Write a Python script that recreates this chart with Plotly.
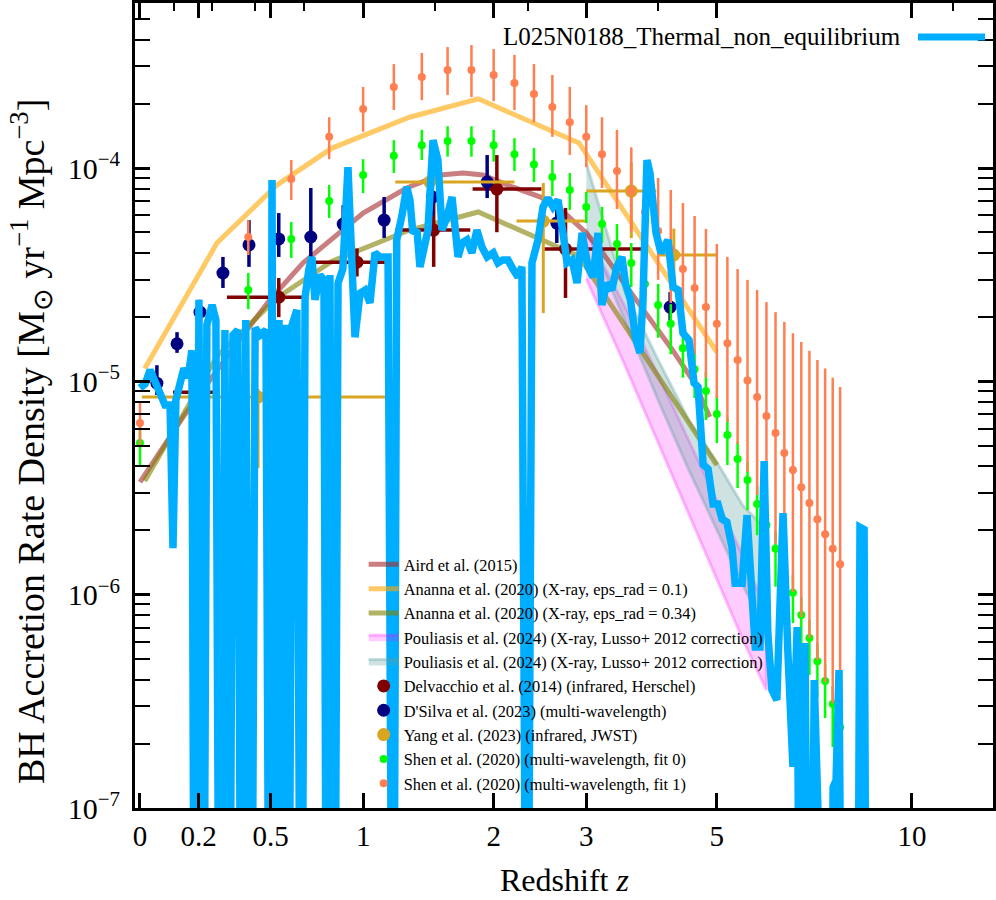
import plotly.graph_objects as go

# simulation: BH accretion rate density vs redshift (0 = no accretion in that snapshot)
sim_z = [0.0, 0.016, 0.032, 0.048, 0.064, 0.081, 0.098, 0.108, 0.118, 0.132,
         0.146, 0.161, 0.175, 0.186, 0.201, 0.216, 0.231, 0.251, 0.266, 0.282,
         0.302, 0.318, 0.335, 0.355, 0.372, 0.389, 0.411, 0.43, 0.452, 0.479,
         0.497, 0.507, 0.521, 0.54, 0.555, 0.57, 0.584, 0.604, 0.628, 0.65,
         0.67, 0.69, 0.706, 0.722, 0.749, 0.771, 0.787, 0.804, 0.827, 0.85,
         0.878, 0.908, 0.93, 0.95, 0.981, 1.012, 1.043, 1.075, 1.108, 1.161,
         1.195, 1.22, 1.257, 1.29, 1.313, 1.334, 1.364, 1.386, 1.409, 1.446,
         1.485, 1.523, 1.555, 1.595, 1.636, 1.661, 1.686, 1.719, 1.761, 1.804,
         1.848, 1.893, 1.94, 1.996, 2.04, 2.088, 2.137, 2.185, 2.235, 2.275,
         2.327, 2.379, 2.443, 2.497, 2.551, 2.607, 2.664, 2.721, 2.768, 2.827,
         2.887, 2.948, 3.022, 3.085, 3.148, 3.199, 3.264, 3.33, 3.397, 3.469,
         3.517, 3.588, 3.66, 3.726, 3.77, 3.83, 3.875, 3.967, 4.045, 4.156,
         4.237, 4.32, 4.402, 4.503, 4.59, 4.66, 4.75, 4.84, 4.93, 5.02,
         5.10, 5.19, 5.29, 5.35, 5.49, 5.59, 5.67, 5.76, 5.86, 5.95,
         6.03, 6.12, 6.23, 6.37, 6.48, 6.60, 6.70, 6.79, 6.89, 7.01,
         7.12, 7.24, 7.53, 7.61, 7.69, 7.77, 7.88, 8.27, 8.36, 8.48,
         8.57]
sim_rate = [9.30e-6, 9.71e-6, 1.13e-5, 1.00e-5, 8.91e-6, 7.74e-6, 7.74e-6, 1.65e-6, 8.17e-6, 1.01e-5,
            1.15e-5, 1.04e-5, 1.40e-5, 0, 2.41e-5, 0, 1.84e-5, 2.28e-5, 1.94e-5, 0,
            1.74e-5, 0, 1.65e-5, 1.74e-5, 0, 1.94e-5, 0, 1.78e-5, 1.65e-5, 1.74e-5,
            0, 8.79e-5, 0, 1.94e-5, 0, 1.84e-5, 0, 1.84e-5, 2.16e-5, 0,
            2.48e-5, 3.36e-5, 3.83e-5, 2.41e-5, 3.15e-5, 2.99e-5, 0, 3.15e-5, 0, 2.89e-5,
            3.36e-5, 1.01e-4, 4.0e-5, 1.61e-5, 2.59e-5, 2.68e-5, 2.33e-5, 4.0e-5, 3.83e-5, 3.83e-5,
            0, 4.60e-5, 6.02e-5, 8.15e-5, 7.08e-5, 4.96e-5, 5.12e-5, 3.44e-5, 4.0e-5, 5.12e-5,
            1.35e-4, 1.09e-4, 5.12e-5, 5.89e-5, 7.31e-5, 4.60e-5, 3.83e-5, 4.45e-5, 4.60e-5, 4.0e-5,
            5.12e-5, 4.26e-5, 3.83e-5, 4.0e-5, 3.59e-5, 3.71e-5, 3.71e-5, 3.36e-5, 3.08e-5, 3.44e-5,
            0, 3.59e-5, 4.60e-5, 6.57e-5, 7.23e-5, 6.57e-5, 7.08e-5, 4.96e-5, 3.59e-5, 3.71e-5,
            2.89e-5, 4.96e-5, 3.44e-5, 3.08e-5, 4.96e-5, 2.28e-5, 2.89e-5, 2.68e-5, 3.44e-5, 3.83e-5,
            2.89e-5, 2.41e-5, 1.61e-5, 1.36e-5, 2.41e-5, 1.09e-4, 9.47e-5, 4.96e-5, 4.0e-5, 4.60e-5,
            2.77e-5, 2.68e-5, 1.68e-5, 1.56e-5, 9.82e-6, 9.42e-6, 4.08e-6, 3.88e-6, 2.66e-6, 2.66e-6,
            2.26e-6, 2.19e-6, 1.67e-6, 1.13e-6, 1.13e-6, 2.36e-6, 1.13e-6, 5.68e-7, 5.68e-7, 4.23e-6,
            6.61e-7, 3.57e-7, 3.21e-7, 2.41e-6, 5.5e-7, 1.56e-7, 7.05e-7, 0, 5.93e-7, 0,
            3.98e-7, 0, 0, 1.25e-7, 1.35e-7, 4.43e-7, 0, 0, 2.07e-6, 2.02e-6,
            0]

# Aird et al. (2015)
aird_z = [0.0, 0.143, 0.351, 0.497, 0.66, 1.0, 1.29, 1.54, 1.73, 1.9,
          2.18, 2.47, 2.74, 3.0, 3.21, 3.55, 3.8, 4.23, 4.6, 4.87]
aird_rate = [3.37e-6, 6.8e-6, 1.51e-5, 2.41e-5, 3.59e-5, 6.15e-5, 8.06e-5, 9.27e-5, 9.47e-5, 9.27e-5,
             8.15e-5, 7.31e-5, 6.15e-5, 4.96e-5, 3.99e-5, 2.77e-5, 2.11e-5, 1.40e-5, 9.8e-6, 6.8e-6]

# Ananna et al. (2020)
ananna_z = [0.015, 0.27, 0.53, 0.816, 1.31, 1.86, 2.91, 5.0]
ananna_01 = [1.15e-5, 4.45e-5, 8.32e-5, 1.24e-4, 1.73e-4, 2.11e-4, 1.31e-4, 1.37e-5]
ananna_034 = [3.41e-6, 1.31e-5, 2.46e-5, 3.66e-5, 5.12e-5, 6.22e-5, 3.86e-5, 4.05e-6]

# Pouliasis et al. (2024) bands
pouli_z = [3.0, 3.5, 4.0, 4.5, 5.0, 5.5, 6.0]
pouli_a_hi = [4.96e-5, 2.28e-5, 1.07e-5, 5.31e-6, 2.78e-6, 1.53e-6, 8.47e-7]
pouli_a_lo = [3.02e-5, 1.21e-5, 5.14e-6, 2.36e-6, 1.18e-6, 6.19e-7, 3.57e-7]
pouli_b_hi = [1.055e-4, 2.68e-5, 1.26e-5, 6.59e-6, 4.19e-6, 2.63e-6, 2.01e-6]
pouli_b_lo = [5.18e-5, 1.94e-5, 8.17e-6, 3.84e-6, 2.01e-6, 1.11e-6, 6.83e-7]

# Delvacchio et al. (2014)
delv_z = [0.205, 0.539, 0.962, 1.49, 2.03, 2.75]
delv_zlo = [0.108, 0.31, 0.706, 1.21, 1.81, 2.51]
delv_zhi = [0.27, 0.655, 1.14, 1.79, 2.48, 3.76]
delv_rate = [8.9e-6, 2.48e-5, 3.62e-5, 5.12e-5, 7.97e-5, 4.17e-5]
delv_lo = [8.2e-6, 2.0e-5, 3.1e-5, 3.44e-5, 5.0e-5, 2.46e-5]
delv_hi = [9.5e-6, 3.05e-5, 4.2e-5, 7.08e-5, 1.15e-4, 6.5e-5]

# D'Silva et al. (2023)
dsilva_z = [0.054, 0.122, 0.205, 0.294, 0.403, 0.539, 0.70, 0.88, 1.135, 1.48, 1.94, 2.65, 4.19]
dsilva_rate = [9.8e-6, 1.50e-5, 2.11e-5, 3.22e-5, 4.36e-5, 4.65e-5, 4.75e-5, 5.46e-5, 5.70e-5, 7.31e-5, 8.6e-5, 5.52e-5, 2.23e-5]
dsilva_lo = [8.63e-6, 1.36e-5, 1.84e-5, 2.74e-5, 3.44e-5, 3.83e-5, 3.83e-5, 4.36e-5, 4.70e-5, 6.0e-5, 7.23e-5, 4.45e-5, 1.90e-5]
dsilva_hi = [1.19e-5, 1.70e-5, 2.41e-5, 3.83e-5, 5.70e-5, 6.15e-5, 8.06e-5, 6.7e-5, 7.31e-5, 8.8e-5, 1.15e-4, 6.36e-5, 2.62e-5]

# Yang et al. (2023)
yang_z = [0.443, 1.46, 2.5, 3.6, 4.25]
yang_zlo = [0.006, 1.21, 2.22, 3.0, 4.0]
yang_zhi = [1.17, 2.2, 2.99, 3.97, 5.0]
yang_rate = [8.44e-6, 8.6e-5, 5.64e-5, 7.8e-5, 3.91e-5]
yang_lo = [3.92e-6, 6.5e-5, 2.09e-5, 4.69e-5, 2.68e-5]
yang_hi = [9.2e-6, 9.5e-5, 8.5e-5, 1.06e-4, 5.2e-5]

# Shen et al. (2020)
shen_z = [0.0, 0.2, 0.4, 0.6, 0.8, 1.0, 1.2, 1.4, 1.6, 1.8,
          2.0, 2.2, 2.4, 2.6, 2.8, 3.0, 3.2, 3.4, 3.6, 3.8,
          4.0, 4.2, 4.4, 4.6, 4.8, 5.0, 5.2, 5.4, 5.6, 5.8,
          6.0, 6.2, 6.4, 6.6, 6.8, 7.0, 7.2, 7.4, 7.6, 7.8]
shen0_rate = [5.14e-6, 1.48e-5, 2.68e-5, 4.65e-5, 7.00e-5, 9.27e-5, 1.14e-4, 1.28e-4, 1.34e-4, 1.34e-4,
              1.28e-4, 1.16e-4, 1.04e-4, 9.07e-5, 7.89e-5, 6.57e-5, 5.46e-5, 4.40e-5, 3.59e-5, 2.86e-5,
              2.28e-5, 1.86e-5, 1.43e-5, 1.14e-5, 9.01e-6, 7.03e-6, 5.60e-6, 4.32e-6, 3.45e-6, 2.66e-6,
              2.12e-6, 1.64e-6, 1.29e-6, 1.02e-6, 8.02e-7, 6.26e-7, 4.88e-7, 3.94e-7, 3.07e-7, 2.39e-7]
shen0_hi = [6.24e-6, 1.78e-5, 3.22e-5, 5.58e-5, 8.32e-5, 1.10e-4, 1.35e-4, 1.51e-4, 1.57e-4, 1.57e-4,
            1.51e-4, 1.38e-4, 1.24e-4, 1.09e-4, 9.47e-5, 7.72e-5, 6.57e-5, 5.46e-5, 4.45e-5, 3.55e-5,
            2.86e-5, 2.30e-5, 1.78e-5, 1.40e-5, 1.11e-5, 8.63e-6, 6.80e-6, 5.19e-6, 4.18e-6, 3.23e-6,
            2.57e-6, 1.99e-6, 1.57e-6, 1.24e-6, 9.74e-7, 7.60e-7, 5.93e-7, 4.78e-7, 3.73e-7, 2.91e-7]
shen0_lo = [3.97e-6, 1.23e-5, 2.18e-5, 3.79e-5, 5.83e-5, 7.63e-5, 9.47e-5, 1.09e-4, 1.13e-4, 1.13e-4,
            1.07e-4, 9.68e-5, 8.60e-5, 7.39e-5, 6.36e-5, 5.52e-5, 4.45e-5, 3.44e-5, 2.77e-5, 2.16e-5,
            1.60e-5, 1.34e-5, 1.04e-5, 8.35e-6, 6.59e-6, 5.14e-6, 4.05e-6, 3.16e-6, 2.49e-6, 1.90e-6,
            1.48e-6, 1.09e-6, 8.75e-7, 7.36e-7, 5.21e-7, 4.20e-7, 3.31e-7, 2.64e-7, 1.93e-7, 1.51e-7]
shen1_rate = [6.38e-6, 1.98e-5, 4.75e-5, 8.88e-5, 1.40e-4, 1.89e-4, 2.40e-4, 2.67e-4, 2.88e-4, 2.88e-4,
              2.73e-4, 2.50e-4, 2.22e-4, 1.93e-4, 1.64e-4, 1.40e-4, 1.16e-4, 9.68e-5, 7.80e-5, 6.22e-5,
              5.07e-5, 4.17e-5, 3.36e-5, 2.74e-5, 2.23e-5, 1.86e-5, 1.51e-5, 1.26e-5, 1.01e-5, 8.44e-6,
              6.88e-6, 5.72e-6, 4.61e-6, 3.84e-6, 3.19e-6, 2.69e-6, 2.26e-6, 1.92e-6, 1.64e-6, 1.39e-6]
shen1_hi = [8.0e-6, 2.41e-5, 5.70e-5, 1.09e-4, 1.73e-4, 2.40e-4, 3.07e-4, 3.46e-4, 3.69e-4, 3.77e-4,
            3.61e-4, 3.39e-4, 3.07e-4, 2.73e-4, 2.40e-4, 1.97e-4, 1.73e-4, 1.51e-4, 1.25e-4, 1.06e-4,
            8.98e-5, 7.89e-5, 6.85e-5, 5.96e-5, 5.18e-5, 4.40e-5, 3.83e-5, 3.36e-5, 2.99e-5, 2.68e-5,
            2.35e-5, 2.11e-5, 1.90e-5, 1.68e-5, 1.53e-5, 1.39e-5, 1.26e-5, 1.15e-5, 1.04e-5, 9.40e-6]
shen1_lo = [5.03e-6, 1.61e-5, 3.91e-5, 7.08e-5, 1.10e-4, 1.48e-4, 1.87e-4, 2.08e-4, 2.20e-4, 2.15e-4,
            2.06e-4, 1.87e-4, 1.64e-4, 1.40e-4, 1.15e-4, 1.01e-4, 8.06e-5, 6.42e-5, 5.01e-5, 3.83e-5,
            2.99e-5, 2.33e-5, 1.74e-5, 1.34e-5, 1.04e-5, 8.35e-6, 6.45e-6, 5.08e-6, 3.76e-6, 2.93e-6,
            2.24e-6, 1.73e-6, 1.30e-6, 1.03e-6, 7.85e-7, 6.26e-7, 4.94e-7, 3.89e-7, 3.10e-7, 2.45e-7]

# axis ticks (redshift), x axis is log(1+z)
xtick_z = [0, 0.2, 0.5, 1, 2, 3, 5, 10]
xtick_text = ["0", "0.2", "0.5", "1", "2", "3", "5", "10"]
top_minor_z = [0.111, 0.25, 0.429, 0.667, 1.5, 2.333, 4.0, 11.5]
ytick_vals = [1e-7, 1e-6, 1e-5, 1e-4]
ytick_text = ["10<sup>\u22127</sup>", "10<sup>\u22126</sup>", "10<sup>\u22125</sup>", "10<sup>\u22124</sup>"]

SIM_COLOR = "#00AEFF"


def onep(zs):
    return [1 + v for v in zs]


def diff(a, b):
    return [x - y for x, y in zip(a, b)]


fig = go.Figure()

# Pouliasis bands
fig.add_trace(go.Scatter(
    x=onep(pouli_z + pouli_z[::-1]), y=pouli_a_hi + pouli_a_lo[::-1],
    fill="toself", fillcolor="rgba(255,0,255,0.2)", mode="lines",
    line=dict(color="rgba(255,0,255,0.25)", width=3),
    name="Pouliasis et al. (2024) (X-ray, Lusso+ 2012 correction)", legendrank=4))
fig.add_trace(go.Scatter(
    x=onep(pouli_z + pouli_z[::-1]), y=pouli_b_hi + pouli_b_lo[::-1],
    fill="toself", fillcolor="rgba(95,158,160,0.3)", mode="lines",
    line=dict(color="rgba(95,158,160,0.35)", width=3),
    name="Pouliasis et al. (2024) (X-ray, Lusso+ 2012 correction)", legendrank=5))

fig.add_trace(go.Scatter(x=onep(aird_z), y=aird_rate, mode="lines",
                         line=dict(color="rgba(165,42,42,0.6)", width=5),
                         name="Aird et al. (2015)", legendrank=1))
fig.add_trace(go.Scatter(x=onep(ananna_z), y=ananna_01, mode="lines",
                         line=dict(color="rgba(255,165,0,0.6)", width=5),
                         name="Ananna et al. (2020) (X-ray, eps_rad = 0.1)", legendrank=2))
fig.add_trace(go.Scatter(x=onep(ananna_z), y=ananna_034, mode="lines",
                         line=dict(color="rgba(128,128,0,0.6)", width=5),
                         name="Ananna et al. (2020) (X-ray, eps_rad = 0.34)", legendrank=3))

fig.add_trace(go.Scatter(
    x=onep(delv_z), y=delv_rate, mode="markers",
    marker=dict(color="#800000", size=13),
    error_x=dict(type="data", array=diff(delv_zhi, delv_z), arrayminus=diff(delv_z, delv_zlo),
                 color="#800000", thickness=3.5, width=0),
    error_y=dict(type="data", array=diff(delv_hi, delv_rate), arrayminus=diff(delv_rate, delv_lo),
                 color="#800000", thickness=3.5, width=0),
    name="Delvacchio et al. (2014) (infrared, Herschel)", legendrank=6))
fig.add_trace(go.Scatter(
    x=onep(dsilva_z), y=dsilva_rate, mode="markers",
    marker=dict(color="#000080", size=13),
    error_y=dict(type="data", array=diff(dsilva_hi, dsilva_rate), arrayminus=diff(dsilva_rate, dsilva_lo),
                 color="#000080", thickness=3.5, width=0),
    name="D'Silva et al. (2023) (multi-wavelength)", legendrank=7))
fig.add_trace(go.Scatter(
    x=onep(yang_z), y=yang_rate, mode="markers",
    marker=dict(color="#DAA520", size=13),
    error_x=dict(type="data", array=diff(yang_zhi, yang_z), arrayminus=diff(yang_z, yang_zlo),
                 color="#DAA520", thickness=3, width=0),
    error_y=dict(type="data", array=diff(yang_hi, yang_rate), arrayminus=diff(yang_rate, yang_lo),
                 color="#DAA520", thickness=3, width=0),
    name="Yang et al. (2023) (infrared, JWST)", legendrank=8))
fig.add_trace(go.Scatter(
    x=onep(shen_z), y=shen0_rate, mode="markers",
    marker=dict(color="#00FF00", size=8),
    error_y=dict(type="data", array=diff(shen0_hi, shen0_rate), arrayminus=diff(shen0_rate, shen0_lo),
                 color="#00FF00", thickness=2.5, width=0),
    name="Shen et al. (2020) (multi-wavelength, fit 0)", legendrank=9))
fig.add_trace(go.Scatter(
    x=onep(shen_z), y=shen1_rate, mode="markers",
    marker=dict(color="#FF7F50", size=8),
    error_y=dict(type="data", array=diff(shen1_hi, shen1_rate), arrayminus=diff(shen1_rate, shen1_lo),
                 color="#FF7F50", thickness=2.5, width=0),
    name="Shen et al. (2020) (multi-wavelength, fit 1)", legendrank=10))

# simulation on top; zero rates fall below the log axis
fig.add_trace(go.Scatter(
    x=onep(sim_z), y=[v if v > 0 else 1e-9 for v in sim_rate], mode="lines",
    line=dict(color=SIM_COLOR, width=7.5), xaxis="x2",
    name="L025N0188_Thermal_non_equilibrium", showlegend=False))

xrange = [-0.0067, 1.1507]
minor_y = [m * 10.0 ** e for e in range(-7, -3) for m in range(2, 10)]

fig.update_layout(
    width=996, height=900,
    margin=dict(l=135, r=3, t=3, b=92, autoexpand=False),
    paper_bgcolor="white", plot_bgcolor="white",
    font=dict(family="Liberation Serif", color="black"),
    showlegend=True,
    legend=dict(x=0.2665, y=0.324, xanchor="left", yanchor="top",
                bgcolor="rgba(0,0,0,0)", borderwidth=0,
                font=dict(size=16.4, family="Liberation Serif"), tracegroupgap=0),
    xaxis=dict(type="log", range=xrange, tickvals=onep(xtick_z), ticktext=xtick_text,
               ticks="inside", ticklen=15, tickwidth=2.5, tickcolor="black",
               showline=True, linewidth=3, linecolor="black", mirror=True,
               showgrid=False, zeroline=False, tickfont=dict(size=29),
               ticklabelstandoff=0, automargin=False),
    xaxis2=dict(type="log", range=xrange, overlaying="x", side="top",
                tickvals=onep(xtick_z), ticks="inside", ticklen=15, tickwidth=2.5, tickcolor="black",
                minor=dict(tickvals=onep(top_minor_z), ticks="inside", ticklen=8, tickwidth=2,
                           tickcolor="black", showgrid=False),
                showticklabels=False, showline=False, showgrid=False, zeroline=False,
                automargin=False),
    yaxis=dict(type="log", range=[-7, -3.2265], tickvals=ytick_vals, ticktext=ytick_text,
               ticks="inside", ticklen=15, tickwidth=2.5, tickcolor="black",
               minor=dict(tickvals=minor_y, ticks="inside", ticklen=8, tickwidth=2,
                          tickcolor="black", showgrid=False),
               showline=True, linewidth=3, linecolor="black", mirror="allticks",
               showgrid=False, zeroline=False, tickfont=dict(size=30),
               ticklabelstandoff=6, automargin=False),
)

# axis titles
fig.add_annotation(text="BH Accretion Rate Density [M<sub>\u2299</sub> yr<sup>\u22121</sup> Mpc<sup>\u22123</sup>]",
                   xref="paper", yref="paper", x=-0.122, y=0.455, textangle=-90,
                   showarrow=False, font=dict(size=38), xanchor="center", yanchor="middle")
fig.add_annotation(text="Redshift <i>z</i>", xref="paper", yref="paper", x=0.5, y=-0.09,
                   showarrow=False, font=dict(size=32), xanchor="center", yanchor="middle")

# top-right legend entry for the simulation (handle on the right)
fig.add_annotation(text="L025N0188_Thermal_non_equilibrium", xref="paper", yref="paper",
                   x=0.8951, y=0.9578, xanchor="right", yanchor="middle",
                   showarrow=False, font=dict(size=25))
fig.add_shape(type="line", xref="paper", yref="paper", x0=0.9126, x1=0.9907, y0=0.9578, y1=0.9578,
              line=dict(color=SIM_COLOR, width=7))

# the page body has a default 8px margin; drop it so the figure fills the window
fig.write_html("out.html", config={"displayModeBar": False},
               post_script="document.body.style.margin='0px';")
